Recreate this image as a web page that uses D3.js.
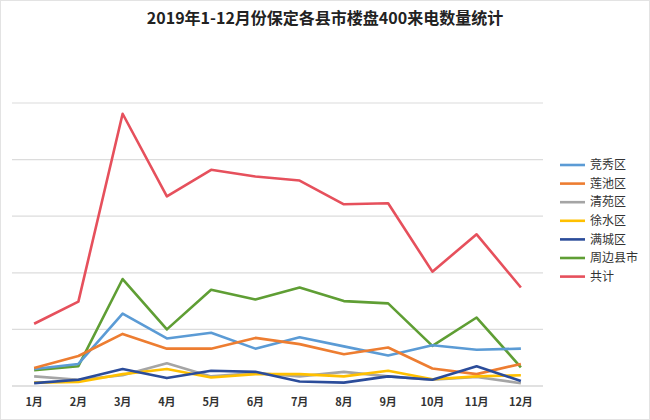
<!DOCTYPE html>
<html><head><meta charset="utf-8">
<script src="https://cdn.jsdelivr.net/npm/d3@7"></script>
<style>body{margin:0;background:#fff;}svg{display:block;}</style>
</head><body>
<svg id="c" width="650" height="420"></svg>
<script>
const months = ["1月","2月","3月","4月","5月","6月","7月","8月","9月","10月","11月","12月"];
const seriesNames = ["竞秀区","莲池区","清苑区","徐水区","满城区","周边县市","共计"];
const jingxiu  = [30, 39, 128, 84, 94, 66, 86, 70, 54, 72, 64, 66];
const lianchi  = [32, 53, 92, 66, 66, 85, 74, 56, 68, 31, 21, 39];
const qingyuan = [17, 11, 19, 40, 17, 23, 17, 25, 17, 11, 16, 5];
const xushui   = [6, 7, 21, 30, 15, 21, 21, 17, 27, 12, 17, 19];
const mancheng = [5, 11, 30, 14, 27, 25, 8, 6, 17, 11, 35, 9];
const zhoubian = [28, 35, 189, 100, 170, 153, 174, 150, 146, 71, 121, 33];
const total    = [110, 149, 481, 335, 382, 370, 363, 321, 323, 202, 268, 174];
const gridTicks = [0, 100, 200, 300, 400, 500];

const seriesValues = [jingxiu, lianchi, qingyuan, xushui, mancheng, zhoubian, total];
const colors = ["#5b9bd5","#ed7d31","#a5a5a5","#ffc000","#2b4c9a","#5f9e34","#e6505c"];

const svg = d3.select("#c");
svg.append("rect").attr("x",0.5).attr("y",0.5).attr("width",649).attr("height",419)
  .attr("fill","#fff").attr("stroke","#e3e3e3");

const x = d3.scaleBand().domain(months).range([12, 543]);
const y = d3.scaleLinear().domain([0, 500]).range([386, 103]);

// gridlines
svg.append("g").selectAll("line").data(gridTicks).join("line")
  .attr("x1", 12).attr("x2", 543)
  .attr("y1", d => y(d)).attr("y2", d => y(d))
  .attr("stroke", d => d === 0 ? "#c4c4c4" : "#dcdcdc").attr("stroke-width", 1.2);

// x axis labels
const xAxis = d3.axisBottom(x).tickSize(0).tickPadding(12);
const gx = svg.append("g").attr("transform", `translate(0,${y(0)})`).call(xAxis);
gx.select(".domain").remove();
gx.selectAll("text").attr("font-family","'Noto Sans CJK SC', sans-serif")
  .attr("font-size", 11).attr("font-weight", "bold").attr("fill", "#333");

const line = d3.line().x((d, i) => x(months[i]) + x.bandwidth() / 2).y(d => y(d));

const order = [6, 5, 0, 1, 2, 3, 4];
svg.append("g").selectAll("path").data(order).join("path")
  .attr("d", k => line(seriesValues[k]))
  .attr("fill", "none").attr("stroke", k => colors[k])
  .attr("stroke-width", 2.6).attr("stroke-linejoin", "round");

// legend
const lg = svg.append("g").selectAll("g").data(seriesNames).join("g")
  .attr("transform", (d, i) => `translate(560,${165 + i * 18.6})`);
lg.append("line").attr("x1", 0).attr("x2", 25).attr("y1", 0).attr("y2", 0)
  .attr("stroke", (d, i) => colors[i]).attr("stroke-width", 2.6);
lg.append("text").attr("x", 30).attr("y", 0).attr("dy", "0.35em")
  .attr("font-family","'Noto Sans CJK SC', sans-serif").attr("font-size", 12)
  .attr("fill", "#333").text(d => d);

// title
svg.append("text").attr("x", 325).attr("y", 24).attr("text-anchor", "middle")
  .attr("font-family","'Noto Sans CJK SC', sans-serif").attr("font-size", 16)
  .attr("font-weight", "bold").attr("fill", "#222")
  .text("2019年1-12月份保定各县市楼盘400来电数量统计");
</script>
</body></html>
